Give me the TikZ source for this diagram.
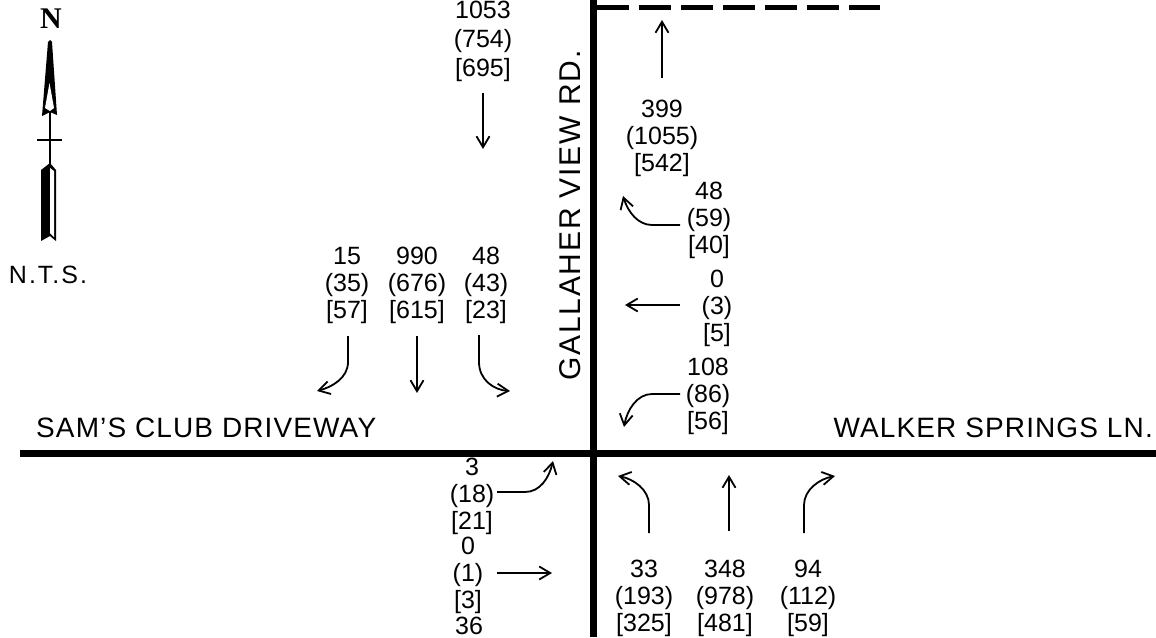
\documentclass[tikz,border=0pt]{standalone}
\usepackage{fontspec}
\setmainfont{Liberation Sans}
\newfontfamily\northfont{Liberation Serif}
\usetikzlibrary{arrows.meta}
\tikzset{
  x=1pt,y=-1pt,
  road/.style={line width=7pt,black},
  flow/.style={line width=1.8pt,-{Straight Barb[length=11pt,width=13pt,line width=1.8pt]}},
  vol/.style={font=\fontsize{25}{27}\selectfont,align=center,inner sep=0pt,anchor=center},
  street/.style={font=\fontsize{28}{30}\selectfont,inner sep=0pt}
}
\begin{document}
\begin{tikzpicture}
\useasboundingbox (0,0) rectangle (1156,637);
\fill[white] (0,0) rectangle (1156,637);
% roads
\coordinate (vt) at (593,0); \coordinate (vb) at (593,637);
\coordinate (hl) at (20,453); \coordinate (hr) at (1156,453);
\coordinate (dl) at (597,7); \coordinate (dr) at (880,7);
\draw[road] (vt) -- (vb);
\draw[road] (hl) -- (hr);
\draw[line width=5pt,dash pattern=on 32pt off 10pt] (dl) -- (dr);
% north arrow
\node[inner sep=0pt,font=\fontsize{30}{32}\selectfont\northfont\bfseries] (n) at (51,19) {N};
\coordinate (ntip) at (50,40);
\coordinate (nmid) at (50,112);
\coordinate (ntail) at (50,165);
\draw[line width=2pt] (nmid) -- (ntail);
\draw[line width=2pt] (37,140) -- (62,140);
\fill (ntip) -- (52,42) -- (57,115) -- (50,112) -- (42,116) -- (48,42) -- cycle;
\fill[white] (49.5,83) -- (54,108) -- (50,111) -- (45,108) -- cycle;
\fill (50,163) -- (56,170) -- (56,241) -- (50,236) -- (41,241) -- (41,170) -- cycle;
\fill[white] (50,168) -- (54,171) -- (54,237) -- (50,233) -- cycle;
\node[vol] (nts) at (48,275) {\addfontfeature{LetterSpace=8}N.T.S.};
% volumes
\node[vol] (a1) at (483,41) {1053\\[2pt](754)\\[2pt]{}[695]};
\node[vol] (b1) at (662,138) {399\\(1055)\\{}[542]};
\node[vol] (b2) at (709,220) {48\\(59)\\{}[40]};
\node[vol] (b3) at (717,308) {0\\(3)\\{}[5]};
\node[vol] (b4) at (708,396) {108\\(86)\\{}[56]};
\node[vol] (c1) at (347,285) {15\\(35)\\{}[57]};
\node[vol] (c2) at (417,285) {990\\(676)\\{}[615]};
\node[vol] (c3) at (486,285) {48\\(43)\\{}[23]};
\node[vol] (d1) at (472,496) {3\\(18)\\{}[21]};
\node[vol] (d2) at (468,575) {0\\(1)\\{}[3]};
\node[vol] (d3) at (469,626) {36};
\node[vol] (e1) at (644,598) {33\\(193)\\{}[325]};
\node[vol] (e2) at (725,598) {348\\(978)\\{}[481]};
\node[vol] (e3) at (808,598) {94\\(112)\\{}[59]};
% street names
\node[street,anchor=west] (s1) at (36,428) {\addfontfeature{LetterSpace=4}SAM'S CLUB DRIVEWAY};
\node[street,anchor=east] (s2) at (1153,428) {\addfontfeature{LetterSpace=4}WALKER SPRINGS LN.};
\node[street,font=\fontsize{30}{32}\selectfont,rotate=90,anchor=west] (s3) at (570,381) {\addfontfeature{LetterSpace=6}GALLAHER VIEW RD.};
% arrows
\coordinate (f1a) at (483,93); \coordinate (f1b) at (483,149);
\draw[flow] (f1a) -- (f1b);
\coordinate (f2a) at (662,78); \coordinate (f2b) at (662,20);
\draw[flow] (f2a) -- (f2b);
\coordinate (f3a) at (680,225); \coordinate (f3b) at (623,196);
\draw[flow] (f3a) -- (652,225) .. controls (638,225) and (628,212) .. (f3b);
\coordinate (f4a) at (680,305); \coordinate (f4b) at (625,305);
\draw[flow] (f4a) -- (f4b);
\coordinate (f5a) at (680,394); \coordinate (f5b) at (624,427);
\draw[flow] (f5a) -- (652,394) .. controls (637,394) and (627,410) .. (f5b);
\coordinate (g1a) at (348,336); \coordinate (g1b) at (317,391);
\draw[flow] (g1a) -- (348,362) .. controls (348,378) and (332,387) .. (g1b);
\coordinate (g2a) at (417,336); \coordinate (g2b) at (417,393);
\draw[flow] (g2a) -- (g2b);
\coordinate (g3a) at (479,335); \coordinate (g3b) at (510,391);
\draw[flow] (g3a) -- (479,362) .. controls (479,380) and (494,390) .. (g3b);
\coordinate (h1a) at (497,492); \coordinate (h1b) at (553,461);
\draw[flow] (h1a) -- (525,492) .. controls (540,492) and (549,478) .. (h1b);
\coordinate (h2a) at (497,573); \coordinate (h2b) at (552,573);
\draw[flow] (h2a) -- (h2b);
\coordinate (i1a) at (649,533); \coordinate (i1b) at (618,476);
\draw[flow] (i1a) -- (649,505) .. controls (649,490) and (634,479) .. (i1b);
\coordinate (i2a) at (729,531); \coordinate (i2b) at (729,475);
\draw[flow] (i2a) -- (i2b);
\coordinate (i3a) at (804,533); \coordinate (i3b) at (835,476);
\draw[flow] (i3a) -- (804,505) .. controls (804,490) and (819,479) .. (i3b);
\end{tikzpicture}
\end{document}
